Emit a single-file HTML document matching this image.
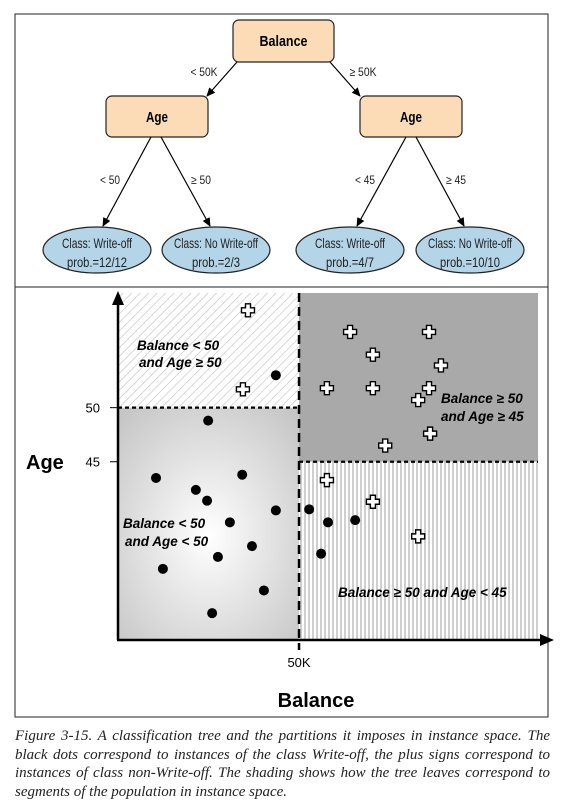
<!DOCTYPE html>
<html><head><meta charset="utf-8"><style>
body{margin:0;background:#fff;width:564px;height:806px;overflow:hidden}
svg{display:block}
.cap{position:absolute;left:15px;top:727px;width:535px;font:italic 15px/18.5px "Liberation Serif",serif;color:#222;text-align:justify}
</style></head><body>
<svg width="564" height="806" style="position:absolute;left:0;top:0">
<defs>
<marker id="ar" markerWidth="10" markerHeight="10" refX="8" refY="5" orient="auto" markerUnits="userSpaceOnUse"><path d="M0,1 L9,5 L0,9 z" fill="#000"/></marker>
<pattern id="diag" width="6" height="6" patternUnits="userSpaceOnUse" patternTransform="rotate(45)"><rect width="6" height="6" fill="#fff"/><line x1="0" y1="0" x2="0" y2="6" stroke="#c4c4c4" stroke-width="1.3"/></pattern>
<pattern id="vert" width="4" height="4" patternUnits="userSpaceOnUse"><rect width="4" height="4" fill="#fff"/><rect width="2" height="4" fill="#cfcfcf"/></pattern>
<radialGradient id="rg" cx="0.5" cy="0.55" r="0.7"><stop offset="0" stop-color="#fff"/><stop offset="1" stop-color="#c6c6c6"/></radialGradient>
</defs>
<rect x="15" y="14" width="533" height="703" fill="none" stroke="#222" stroke-width="1"/>
<line x1="15" y1="287" x2="548" y2="287" stroke="#222"/>
<g font-family="Liberation Sans, sans-serif">
<rect x="233" y="20" width="101" height="42" rx="6" fill="#fbdcb6" stroke="#222" stroke-width="1.2"/>
<text x="283.5" y="46" text-anchor="middle" font-weight="bold" font-size="15" textLength="48" lengthAdjust="spacingAndGlyphs">Balance</text>
<rect x="106" y="96" width="102" height="41" rx="6" fill="#fbdcb6" stroke="#222" stroke-width="1.2"/>
<text x="157" y="122" text-anchor="middle" font-weight="bold" font-size="15" textLength="22" lengthAdjust="spacingAndGlyphs">Age</text>
<rect x="360" y="96" width="102" height="41" rx="6" fill="#fbdcb6" stroke="#222" stroke-width="1.2"/>
<text x="411" y="122" text-anchor="middle" font-weight="bold" font-size="15" textLength="22" lengthAdjust="spacingAndGlyphs">Age</text>
<g stroke="#000" stroke-width="1.2" marker-end="url(#ar)">
<line x1="237" y1="62" x2="207" y2="96"/><line x1="330" y1="62" x2="360" y2="96"/>
<line x1="151" y1="137" x2="103" y2="226"/><line x1="161" y1="137" x2="210" y2="226"/>
<line x1="406" y1="137" x2="357" y2="226"/><line x1="416" y1="137" x2="464" y2="226"/>
</g>
<g font-size="12" text-anchor="middle" fill="#222">
<text x="204" y="76" textLength="27" lengthAdjust="spacingAndGlyphs">&lt; 50K</text><text x="363" y="76" textLength="27" lengthAdjust="spacingAndGlyphs">≥ 50K</text>
<text x="110" y="184" textLength="20" lengthAdjust="spacingAndGlyphs">&lt; 50</text><text x="201" y="184" textLength="20" lengthAdjust="spacingAndGlyphs">≥ 50</text>
<text x="365" y="184" textLength="20" lengthAdjust="spacingAndGlyphs">&lt; 45</text><text x="456" y="184" textLength="20" lengthAdjust="spacingAndGlyphs">≥ 45</text>
</g>
<g fill="#b4d5e8" stroke="#222" stroke-width="1.2">
<ellipse cx="97" cy="250" rx="54" ry="23"/>
<ellipse cx="216" cy="250" rx="54" ry="23"/>
<ellipse cx="350" cy="250" rx="54" ry="23"/>
<ellipse cx="470" cy="250" rx="54" ry="23"/>
</g>
<g font-size="14" text-anchor="middle" fill="#222">
<text x="97" y="248" textLength="70" lengthAdjust="spacingAndGlyphs">Class: Write-off</text><text x="97" y="267" textLength="60" lengthAdjust="spacingAndGlyphs">prob.=12/12</text>
<text x="216" y="248" textLength="84" lengthAdjust="spacingAndGlyphs">Class: No Write-off</text><text x="216" y="267" textLength="48" lengthAdjust="spacingAndGlyphs">prob.=2/3</text>
<text x="350" y="248" textLength="70" lengthAdjust="spacingAndGlyphs">Class: Write-off</text><text x="350" y="267" textLength="48" lengthAdjust="spacingAndGlyphs">prob.=4/7</text>
<text x="470" y="248" textLength="84" lengthAdjust="spacingAndGlyphs">Class: No Write-off</text><text x="470" y="267" textLength="60" lengthAdjust="spacingAndGlyphs">prob.=10/10</text>
</g>
</g>
<g id="plot"></g>
</svg>
<div class="cap">Figure 3-15. A classification tree and the partitions it imposes in instance space. The black dots correspond to instances of the class Write-off, the plus signs correspond to instances of class non-Write-off. The shading shows how the tree leaves correspond to segments of the population in instance space.</div>
<script>
const dotBalance=[43.6,24.9,10.5,34.3,21.5,24.6,43.6,30.9,37.0,27.6,12.4,40.3,26.0,52.8,58.0,65.5,56.1];
const dotAge=[53.0,48.8,43.5,43.8,42.4,41.4,40.5,39.4,37.2,36.2,35.1,33.1,31.0,40.6,39.4,39.6,36.5];
const plusBalance=[35.9,34.5,64.1,85.9,70.4,89.2,57.7,70.4,85.9,82.9,73.8,86.2,57.7,70.4,82.9];
const plusAge=[59.0,51.7,57.0,57.0,54.9,53.9,51.8,51.8,51.8,50.7,46.5,47.6,43.3,41.3,38.1];
const splitBalance=50, splitAgeLeft=50, splitAgeRight=45;
const yTicks=[50,45];
const NS="http://www.w3.org/2000/svg";
const X0=118,X1=538,Y0=640,Y1=293;
const bMin=0,bMax=116,aMin=28.52,aMax=60.6;
const sx=v=>X0+(v-bMin)/(bMax-bMin)*(X1-X0);
const sy=v=>Y0-(v-aMin)/(aMax-aMin)*(Y0-Y1);
const g=document.getElementById('plot');
function mk(t,a,p){const e=document.createElementNS(NS,t);for(const k in a)e.setAttribute(k,a[k]);(p||g).appendChild(e);return e;}
const xs=sx(splitBalance),yl=sy(splitAgeLeft),yr=sy(splitAgeRight);
let r;
r=mk('rect',{x:X0,y:Y1,width:xs-X0,height:yl-Y1,fill:'url(#diag)'});


r=mk('rect',{x:X0,y:yl,width:xs-X0,height:Y0-yl,fill:'url(#rg)'});


r=mk('rect',{x:xs,y:Y1,width:X1-xs,height:yr-Y1,fill:'#a9a9a9'});


r=mk('rect',{x:xs,y:yr,width:X1-xs,height:Y0-yr,fill:'url(#vert)'});


let l=mk('line',{x1:X0,y1:yl,x2:xs,y2:yl,stroke:'#000','stroke-width':2.2,'stroke-dasharray':'4 3'});


l=mk('line',{x1:xs,y1:yr,x2:X1,y2:yr,stroke:'#000','stroke-width':2.2,'stroke-dasharray':'4 3'});


l=mk('line',{x1:xs,y1:Y1,x2:xs,y2:Y0+10,stroke:'#000','stroke-width':2.5,'stroke-dasharray':'9 5'});


let ax=mk('line',{x1:X0,y1:Y0,x2:X0,y2:300,stroke:'#000','stroke-width':2.5});


mk('path',{d:`M${X0-6},305 L${X0},291 L${X0+6},305 z`,fill:'#000'});
ax=mk('line',{x1:X0-1,y1:Y0,x2:545,y2:Y0,stroke:'#000','stroke-width':2.5});


mk('path',{d:`M540,${Y0-6} L554,${Y0} L540,${Y0+6} z`,fill:'#000'});
yTicks.forEach(t=>{
  const y=sy(t);
  mk('line',{x1:X0-8,y1:y,x2:X0,y2:y,stroke:'#000','stroke-width':1});
  const tx=mk('text',{x:X0-18,y:y+5,'text-anchor':'end','font-size':13,'font-family':'Liberation Sans, sans-serif'});
  tx.textContent=t;
  
  
});
let t=mk('text',{x:xs,y:667,'text-anchor':'middle','font-size':13,'font-family':'Liberation Sans, sans-serif'});
t.textContent=splitBalance+'K';


t=mk('text',{x:26,y:469,'font-size':20,'font-weight':'bold','font-family':'Liberation Sans, sans-serif'});
t.textContent='Age';


t=mk('text',{x:316,y:707,'text-anchor':'middle','font-size':20,'font-weight':'bold','font-family':'Liberation Sans, sans-serif'});
t.textContent='Balance';


const labs=[['Balance < 50',137,350],['and Age ≥ 50',139,367],['Balance < 50',123,528],['and Age < 50',125,546],['Balance ≥ 50',441,403],['and Age ≥ 45',441,421],['Balance ≥ 50 and Age < 45',338,597]];
labs.forEach(a=>{
  const e=mk('text',{x:a[1],y:a[2],'font-size':13.5,'font-weight':'bold','font-style':'italic','font-family':'Liberation Sans, sans-serif'});
  e.textContent=a[0];
  
  
});
dotBalance.forEach((b,i)=>{
  const c=mk('circle',{cx:sx(b),cy:sy(dotAge[i]),r:5,fill:'#000'});
  
  
});
plusBalance.forEach((b,i)=>{
  const x=sx(b),y=sy(plusAge[i]);
  const p=mk('path',{d:`M${x-2.5},${y-6.5}h5v4h4v5h-4v4h-5v-4h-4v-5h4z`,fill:'#fff',stroke:'#000','stroke-width':1.4});
  
  
});
</script>
</body></html>
